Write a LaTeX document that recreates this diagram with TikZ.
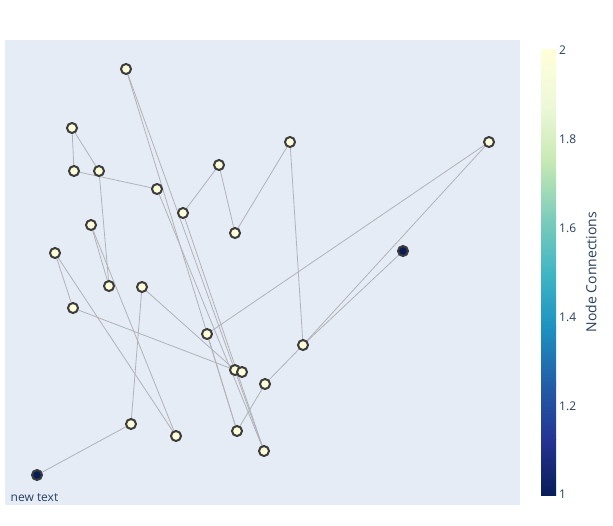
\documentclass[tikz,border=0pt]{standalone}
\usepackage{fontspec}
\setmainfont{Open Sans}
\definecolor{plotbg}{HTML}{E5ECF6}
\definecolor{txt}{HTML}{2A3F5F}
\definecolor{edgec}{RGB}{178,178,184}
\definecolor{mline}{HTML}{3C3C3C}
\definecolor{cA}{RGB}{8,29,88}
\definecolor{cB}{RGB}{37,52,148}
\definecolor{cC}{RGB}{34,94,168}
\definecolor{cD}{RGB}{29,145,192}
\definecolor{cE}{RGB}{65,182,196}
\definecolor{cF}{RGB}{127,205,187}
\definecolor{cG}{RGB}{199,233,180}
\definecolor{cH}{RGB}{237,248,217}
\definecolor{cI}{RGB}{255,255,217}
\pgfdeclarelayer{bgl}
\pgfdeclarelayer{edges}
\pgfsetlayers{bgl,edges,main}
\tikzset{
  dot/.style={circle, draw=mline, line width=2pt, fill=cI, minimum size=10pt, inner sep=0pt},
  dotlow/.style={dot, fill=cA},
  link/.style={draw=edgec, line width=0.8pt},
  lbl/.style={text=txt, font=\fontsize{12pt}{14pt}\selectfont, inner sep=0pt},
}
\begin{document}
\begin{tikzpicture}[x=1pt,y=-1pt]
\useasboundingbox (0,0) rectangle (613,525);
\begin{pgfonlayer}{bgl}
\fill[white] (0,0) rectangle (613,525);
\fill[plotbg] (5,40) rectangle (520,505);
\end{pgfonlayer}
% nodes
\node[dot] (n1) at (126,69) {};
\node[dot] (n2) at (72,128) {};
\node[dot] (n3) at (74,171) {};
\node[dot] (n4) at (99,171) {};
\node[dot] (n5) at (157,189) {};
\node[dot] (n6) at (219,165) {};
\node[dot] (n7) at (183,213) {};
\node[dot] (n8) at (235,233) {};
\node[dot] (n9) at (290,142) {};
\node[dot] (n10) at (489,142) {};
\node[dotlow] (n11) at (403,251) {};
\node[dot] (n12) at (91,225) {};
\node[dot] (n13) at (55,253) {};
\node[dot] (n14) at (109,286) {};
\node[dot] (n15) at (142,287) {};
\node[dot] (n16) at (73,308) {};
\node[dot] (n17) at (207,334) {};
\node[dot] (n18) at (303,345) {};
\node[dot] (n19) at (235,370) {};
\node[dot] (n20) at (242,372) {};
\node[dot] (n21) at (265,384) {};
\node[dot] (n22) at (131,424) {};
\node[dot] (n23) at (176,436) {};
\node[dot] (n24) at (237,431) {};
\node[dot] (n25) at (264,451) {};
\node[dotlow] (n26) at (37,475) {};
% edges
\begin{pgfonlayer}{edges}
\foreach \a/\b in {n2/n3,n2/n4,n3/n5,n4/n14,n12/n14,n12/n23,n13/n23,n13/n16,
  n16/n19,n15/n19,n15/n22,n22/n26,n6/n7,n6/n8,n8/n9,n9/n18,n10/n17,n10/n18,
  n11/n18,n18/n21,n21/n24,n17/n24,n1/n24,n1/n25,n5/n25,n7/n25}
  \draw[link] (\a.center) -- (\b.center);
\end{pgfonlayer}
% annotation
\node[lbl, anchor=base west] (note) at (10.5,501) {new text};
% colorbar
\foreach \lo/\hi [count=\k from 0] in {cA/cB,cB/cC,cC/cD,cD/cE,cE/cF,cF/cG,cG/cH,cH/cI}{
  \shade[bottom color=\lo, top color=\hi, shading angle=0]
    (541,{495-55.625*\k+0.3}) rectangle (556,{495-55.625*(\k+1)-0.3});
}
\node[lbl, anchor=west] (t2) at (559,50) {2};
\node[lbl, anchor=west] (t18) at (559,139) {1.8};
\node[lbl, anchor=west] (t16) at (559,228) {1.6};
\node[lbl, anchor=west] (t14) at (559,317) {1.4};
\node[lbl, anchor=west] (t12) at (559,406) {1.2};
\node[lbl, anchor=west] (t1) at (559,494) {1};
\node[text=txt, font=\fontsize{14pt}{16pt}\selectfont, rotate=90, inner sep=0pt] (cbt) at (591,272) {Node Connections};
\end{tikzpicture}
\end{document}
